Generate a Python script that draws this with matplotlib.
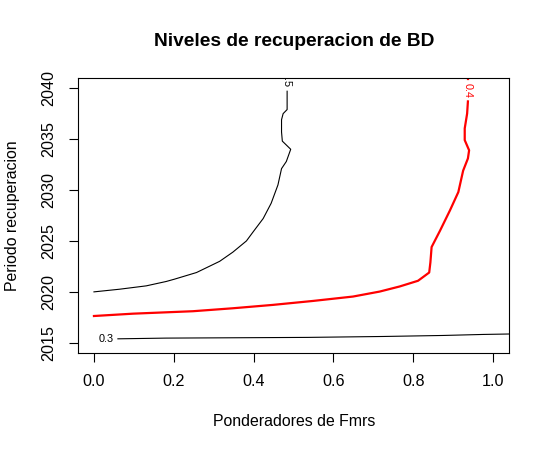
import numpy as np
import matplotlib
matplotlib.use("Agg")
import matplotlib.pyplot as plt

plt.rcParams['font.family'] = ['Liberation Sans', 'DejaVu Sans']

# ---- contour lines ----
# level 0.5 (black)
x_05 = [0.0, 0.064, 0.131, 0.181, 0.202, 0.257, 0.315, 0.348, 0.382, 0.399, 0.424,
        0.444, 0.461, 0.470, 0.482, 0.493, 0.472, 0.470, 0.470, 0.474, 0.484, 0.484]
y_05 = [2020.0, 2020.26, 2020.59, 2021.02, 2021.25, 2021.9, 2023.0, 2023.9, 2025.0,
        2025.9, 2027.2, 2028.7, 2030.5, 2032.1, 2032.8, 2034.0, 2034.8, 2035.7,
        2036.9, 2037.5, 2037.9, 2039.7]

# level 0.4 (red)
x_04 = [0.0, 0.098, 0.248, 0.348, 0.448, 0.549, 0.649, 0.716, 0.766, 0.812, 0.829,
        0.840, 0.843, 0.846, 0.867, 0.892, 0.913, 0.925, 0.937, 0.940, 0.929, 0.929,
        0.935, 0.937]
y_04 = [2017.63, 2017.86, 2018.1, 2018.39, 2018.72, 2019.11, 2019.54, 2020.03,
        2020.53, 2021.09, 2021.58, 2021.9, 2022.9, 2024.4, 2026.0, 2028.0, 2029.8,
        2031.9, 2033.1, 2033.9, 2034.9, 2036.05, 2037.5, 2038.7]

# level 0.3 (black)
x_03 = [0.060, 0.180, 0.535, 0.724, 0.875, 0.975, 1.05]
y_03 = [2015.39, 2015.46, 2015.53, 2015.62, 2015.72, 2015.82, 2015.87]

fig = plt.figure(figsize=(5.5, 4.5), dpi=100)
ax = fig.add_axes([0.1418, 0.2156, 0.7837, 0.6111])

ax.plot(x_05, y_05, color="black", linewidth=0.8)
ax.plot(x_04, y_04, color="red", linewidth=1.6)
ax.plot([0.937, 0.937], [2040.9, 2041.2], color="red", linewidth=1.6)
ax.plot(x_03, y_03, color="black", linewidth=0.8)

# contour labels (R style: line broken where the label sits)
ax.text(0.484, 2040.85, "0.5", rotation=-90, ha="center", va="center",
        fontsize=7.8, clip_on=True)
ax.text(0.937, 2039.8, "0.4", rotation=-90, ha="center", va="center",
        fontsize=7.8, color="red", clip_on=True)
ax.text(0.031, 2015.4, "0.3", ha="center", va="center", fontsize=7.8)

ax.set_xlim(-0.04, 1.04)
ax.set_ylim(2014.0, 2041.0)
ax.set_xticks([0.0, 0.2, 0.4, 0.6, 0.8, 1.0])
ax.set_xticklabels(["0.0", "0.2", "0.4", "0.6", "0.8", "1.0"])
ax.set_yticks([2015, 2020, 2025, 2030, 2035, 2040])
ax.tick_params(axis="both", direction="out", length=6.8, width=0.8, labelsize=11.6)
ax.tick_params(axis="x", pad=8)
ax.tick_params(axis="y", pad=8.5)
for lab in ax.get_yticklabels():
    lab.set_rotation(90)
    lab.set_va("center")
for sp in ax.spines.values():
    sp.set_linewidth(0.8)

fig.text(0.534, 1 - 422 / 450, "Ponderadores de Fmrs", ha="center", va="center",
         fontsize=11.4)
fig.text(13 / 550, 1 - 216 / 450, "Periodo recuperacion", ha="center", va="center",
         rotation=90, fontsize=11.4)
fig.text(0.534, 1 - 42 / 450, "Niveles de recuperacion de BD", ha="center", va="center",
         fontsize=13.8, fontweight="bold")

fig.savefig("out.png", dpi=100)
